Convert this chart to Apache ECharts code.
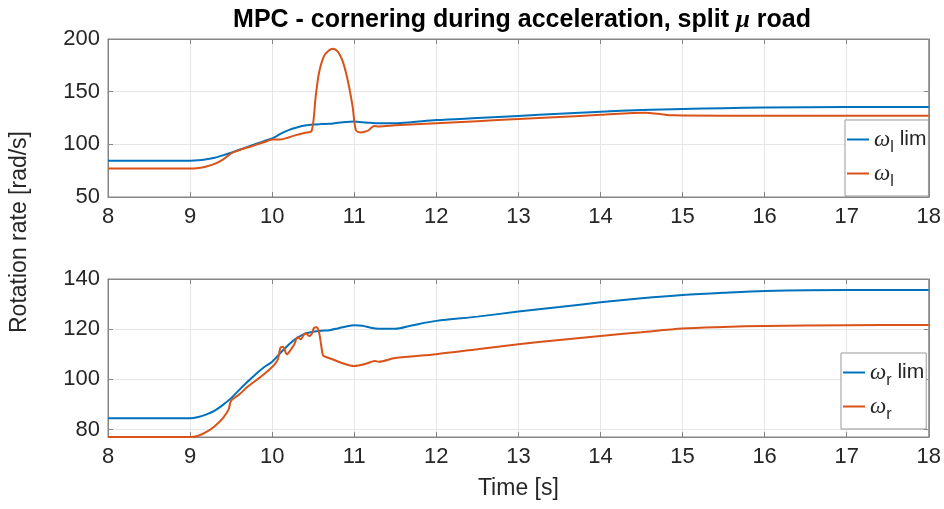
<!DOCTYPE html>
<html>
<head>
<meta charset="utf-8">
<script src="https://cdn.jsdelivr.net/npm/echarts@6/dist/echarts.min.js"></script>
<style>
  html, body { margin: 0; padding: 0; background: #fff; }
  #chart { width: 944px; height: 509px; }
</style>
</head>
<body>
<div id="chart"></div>
<script>
// ---- data ----
var yTicksTop = [50, 100, 150, 200];
var yTicksBot = [80, 100, 120, 140];

// top subplot: left wheel
var tLeftLim = [8, 9, 9.1, 9.2, 9.3, 9.4, 9.5, 9.6, 9.7, 9.8, 9.9, 10.0, 10.05, 10.1, 10.2, 10.3, 10.4, 10.5, 10.6, 10.7, 10.8, 10.9, 11.0, 11.1, 11.2, 11.3, 11.5, 11.7, 12, 12.5, 13, 13.5, 14, 14.5, 15, 15.5, 16, 17, 18];
var wLeftLim = [84.5, 84.5, 84.8, 85.8, 87.3, 89.5, 92, 94.8, 97.6, 100.3, 103, 105.7, 107.5, 110, 113.5, 116, 117.8, 118.8, 119.2, 119.5, 120.5, 121.3, 121.6, 121, 120.4, 120, 120, 121, 123, 125, 127, 129, 131, 132.5, 133.5, 134.3, 135, 135.4, 135.5];

var tLeft = [8, 9, 9.1, 9.2, 9.3, 9.4, 9.5, 9.6, 9.7, 9.8, 9.9, 10.0, 10.1, 10.2, 10.3, 10.4, 10.48, 10.53, 10.57, 10.63, 10.69, 10.74, 10.8, 10.86, 10.92, 10.98, 11.02, 11.08, 11.14, 11.18, 11.24, 11.3, 11.5, 12, 12.5, 13, 13.5, 14, 14.55, 14.7, 14.9, 15.5, 16, 17, 18];
var wLeft = [77, 77, 77.5, 79, 81.5, 85.5, 91.5, 94.5, 97, 99.5, 102, 104.5, 104.5, 106.5, 109, 111, 112.5, 145, 167.5, 183.5, 189, 190.8, 188, 178.7, 161, 136, 113.6, 111.3, 112.3, 113.6, 117.5, 117, 118, 120, 122, 124, 126, 128, 130, 129, 127.5, 127.2, 127.2, 127.2, 127.2];

// bottom subplot: right wheel
var tRightLim = [8, 9, 9.1, 9.2, 9.3, 9.4, 9.5, 9.6, 9.7, 9.8, 9.9, 10.0, 10.1, 10.2, 10.3, 10.4, 10.5, 10.6, 10.7, 10.8, 10.9, 11.0, 11.1, 11.2, 11.3, 11.5, 11.7, 12, 12.5, 13, 13.5, 14, 14.5, 15, 15.5, 16, 17, 18];
var wRightLim = [84.5, 84.5, 85, 86, 87.5, 89.8, 92.5, 95.8, 99, 102, 104.8, 107, 110.5, 113.8, 116.4, 118.2, 119, 119.4, 119.6, 120.3, 121.1, 121.6, 121.4, 120.6, 120.2, 120.2, 121.5, 123.3, 125, 127, 128.8, 130.7, 132.3, 133.6, 134.5, 135.2, 135.6, 135.6];

var tRight = [8, 9, 9.1, 9.2, 9.3, 9.4, 9.47, 9.5, 9.6, 9.7, 9.8, 9.9, 9.97, 10.03, 10.07, 10.1, 10.13, 10.18, 10.22, 10.27, 10.31, 10.35, 10.38, 10.41, 10.45, 10.48, 10.51, 10.54, 10.57, 10.6, 10.62, 10.65, 10.75, 10.85, 11.0, 11.05, 11.15, 11.25, 11.3, 11.5, 12, 12.5, 13, 13.5, 14, 14.5, 15, 15.5, 16, 17, 18];
var wRight = [77, 77, 77.5, 79, 81.3, 84.5, 88, 91.5, 94, 97, 99.5, 102, 104, 106, 108, 112.5, 113, 110, 111.5, 114, 116.8, 116, 117.5, 118.4, 117.3, 118, 120.5, 120.8, 119, 113, 109.5, 109, 107.8, 106.5, 105.3, 105.5, 106.3, 107.3, 107, 108.5, 110, 112, 114, 115.7, 117.3, 118.8, 120.3, 120.9, 121.3, 121.6, 121.7];

var names = ['ωl lim', 'ωl', 'ωr lim', 'ωr'];
var colors = ['#0072BD', '#D95319'];

function zip(t, v) {
  return t.map(function (x, i) { return [x, v[i]]; });
}

var chart = echarts.init(document.getElementById('chart'));
var font = 'Liberation Sans, Arial, sans-serif';
var txt = '#262626';
var axisCol = '#858585';

var rich = {
  w: { fontFamily: 'Liberation Serif, serif', fontStyle: 'italic', fontSize: 23, color: txt, lineHeight: 33 },
  s: { fontFamily: font, fontSize: 16, color: txt, lineHeight: 15, verticalAlign: 'bottom' },
  t: { fontFamily: font, fontSize: 21, color: txt, lineHeight: 33 }
};
function legendFmt(name) {
  var sub = name.charAt(1);
  var rest = name.slice(2);
  return '{w|ω}{s|' + sub + '}' + (rest ? '{t|' + rest + '}' : '');
}

function xAxis(grid, pos, labels) {
  return {
    type: 'value', gridIndex: grid, position: pos, min: 8, max: 18, interval: 1,
    axisLine: { show: true, onZero: false, lineStyle: { color: axisCol, width: 1 } },
    axisTick: { show: true, inside: true, length: 5, lineStyle: { color: axisCol } },
    axisLabel: { show: labels, color: txt, fontFamily: font, fontSize: 22, margin: 9 },
    splitLine: { show: labels, lineStyle: { color: '#e6e6e6', width: 1 } }
  };
}
function yAxis(grid, pos, min, max, ticks, labels) {
  return {
    type: 'value', gridIndex: grid, position: pos, min: min, max: max,
    axisLine: { show: true, onZero: false, lineStyle: { color: axisCol, width: 1 } },
    axisTick: { show: true, inside: true, length: 5, lineStyle: { color: axisCol }, customValues: ticks },
    axisLabel: { show: labels, color: txt, fontFamily: font, fontSize: 22, margin: 8, customValues: ticks },
    splitLine: { show: labels, lineStyle: { color: '#e6e6e6', width: 1 } }
  };
}

var botX = xAxis(1, 'bottom', true);
botX.name = 'Time [s]';
botX.nameLocation = 'middle';
botX.nameGap = 40;
botX.nameTextStyle = { color: txt, fontFamily: font, fontSize: 23 };

function lineSeries(name, t, v, color, xi, yi) {
  return {
    name: name, type: 'line', xAxisIndex: xi, yAxisIndex: yi,
    data: zip(t, v), showSymbol: false, symbol: 'none', smooth: 0.3,
    lineStyle: { color: color, width: 2 }, itemStyle: { color: color },
    silent: true, animation: false
  };
}

function legend(items, left, top) {
  return {
    data: items, orient: 'vertical', left: left, top: top,
    backgroundColor: '#fff', borderColor: '#999', borderWidth: 1, borderRadius: 0,
    padding: [8, 2, 6, 2], itemGap: 6, itemWidth: 22, itemHeight: 2, icon: 'rect',
    formatter: legendFmt, textStyle: { rich: rich }, selectedMode: false
  };
}

chart.setOption({
  animation: false,
  backgroundColor: '#fff',
  title: {
    text: '{b|MPC - cornering during acceleration, split }{m|μ}{b| road}',
    left: 517, top: 3, textAlign: 'center',
    textStyle: {
      rich: {
        b: { fontFamily: font, fontWeight: 'bold', fontSize: 25, color: '#000' },
        m: { fontFamily: 'Liberation Serif, serif', fontStyle: 'italic', fontSize: 25, color: '#000' }
      }
    }
  },
  grid: [
    { left: 108, right: 14, top: 39, height: 158, show: true, borderColor: axisCol, borderWidth: 1 },
    { left: 108, right: 14, top: 279, height: 158, show: true, borderColor: axisCol, borderWidth: 1 }
  ],
  xAxis: [xAxis(0, 'bottom', true), botX, xAxis(0, 'top', false), xAxis(1, 'top', false)],
  yAxis: [
    yAxis(0, 'left', 50, 200, yTicksTop, true),
    yAxis(1, 'left', 77, 140, yTicksBot, true),
    yAxis(0, 'right', 50, 200, yTicksTop, false),
    yAxis(1, 'right', 77, 140, yTicksBot, false)
  ],
  legend: [legend([names[0], names[1]], 845, 120), legend([names[2], names[3]], 841, 353)],
  graphic: [{
    type: 'text', x: 20, y: 232, rotation: Math.PI / 2,
    style: { text: 'Rotation rate [rad/s]', fill: txt, font: '23px Liberation Sans', align: 'center', verticalAlign: 'middle' }
  }],
  series: [
    lineSeries(names[0], tLeftLim, wLeftLim, colors[0], 0, 0),
    lineSeries(names[1], tLeft, wLeft, colors[1], 0, 0),
    lineSeries(names[2], tRightLim, wRightLim, colors[0], 1, 1),
    lineSeries(names[3], tRight, wRight, colors[1], 1, 1)
  ]
});
</script>
</body>
</html>
